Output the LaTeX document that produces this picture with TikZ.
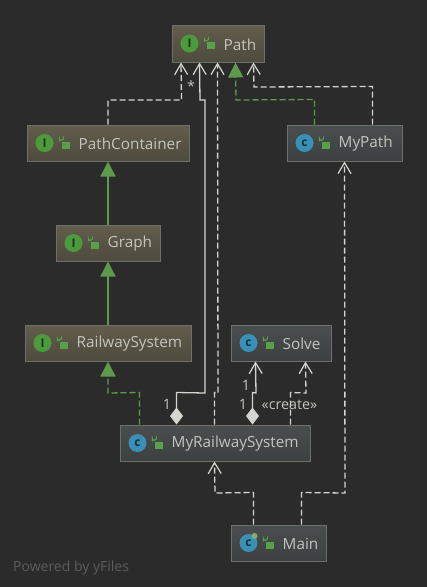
\documentclass[tikz,border=0pt]{standalone}
\usepackage{fontspec}
\setmainfont{Open Sans}
\usetikzlibrary{arrows.meta,calc}
\definecolor{bgc}{HTML}{2B2B2B}
\definecolor{bord}{HTML}{6E6E6A}
\definecolor{ifT}{HTML}{625D4C}
\definecolor{ifB}{HTML}{4E4A3D}
\definecolor{clT}{HTML}{4B4E4F}
\definecolor{clB}{HTML}{3D4041}
\definecolor{linec}{HTML}{D4D4D0}
\definecolor{greenl}{HTML}{5F9A4C}
\definecolor{txt}{HTML}{C4C4BE}
\definecolor{iconG}{HTML}{4C9A3C}
\definecolor{iconB}{HTML}{3A8FB4}
\definecolor{lockc}{HTML}{58A14A}
\definecolor{pow}{HTML}{5C5C5C}
\tikzset{
  x=1pt,y=-1pt,
  umlbox/.style={draw=bord,line width=1pt,inner sep=0pt,shade,shading angle=0},
  ifbox/.style={umlbox,top color=ifT,bottom color=ifB},
  clbox/.style={umlbox,top color=clT,bottom color=clB},
  lbl/.style={anchor=west,inner sep=0pt,text=txt,font=\fontsize{15.3}{15.3}\selectfont},
  small/.style={inner sep=0pt,text=txt,font=\fontsize{14.3}{14.3}\selectfont},
  openhead/.style={-{Straight Barb[length=11pt,width=13pt,line width=1.2pt]}},
  rel/.style={color=linec,line width=1.3pt,openhead},
  dep/.style={rel,dash pattern=on 6pt off 3pt},
  gen/.style={color=greenl,line width=1.3pt,-{Triangle[length=15pt,width=15pt]}},
  real/.style={gen,dash pattern=on 6pt off 3pt},
  assoc/.style={color=linec,line width=1.3pt,{Diamond[length=17pt,width=13pt]}-{Straight Barb[length=11pt,width=13pt,line width=1.2pt]}},
}
% #1 name, #2 left, #3 top, #4 right, #5 bottom, #6 style, #7 icon colour, #8 letter, #9 label
\newcommand{\umlclass}[9]{%
  \node[#6,minimum width=#4pt-#2pt,minimum height=#5pt-#3pt] (#1) at ({(#2+#4)/2},{(#3+#5)/2}) {};
  \node[circle,minimum size=18pt,inner sep=0pt,fill=#7,text=black!65!#7,font=\fontsize{12}{12}\bfseries\selectfont] (#1icon) at ($(#1.west)+(18,0)$) {#8};
  \node[fill=lockc,minimum width=8pt,minimum height=7pt,inner sep=0pt] (#1lock) at ($(#1.west)+(39,2)$) {};
  \draw[lockc,line width=1.1pt] ($(#1lock.north west)+(-2,0)$) -- ++(0,-3) arc[start angle=180,end angle=0,radius=2] -- ++(0,1);
  \node[lbl] (#1text) at ($(#1.west)+(52,1)$) {#9};
}
\begin{document}
\begin{tikzpicture}
\useasboundingbox[fill=bgc] (0,0) rectangle (427,587);
\umlclass{path}{172}{25}{264}{62}{ifbox}{iconG}{I}{Path}
\umlclass{pc}{27}{125}{189}{161}{ifbox}{iconG}{I}{PathContainer}
\umlclass{graph}{56}{225}{160}{261}{ifbox}{iconG}{I}{Graph}
\umlclass{rs}{25}{325}{191}{361}{ifbox}{iconG}{I}{RailwaySystem}
\umlclass{mypath}{287}{125}{402}{161}{clbox}{iconB}{c}{MyPath}
\umlclass{solve}{231}{325}{331}{361}{clbox}{iconB}{c}{Solve}
\umlclass{mrs}{120}{425}{310}{461}{clbox}{iconB}{c}{MyRailwaySystem}
\umlclass{main}{231}{525}{326}{561}{clbox}{iconB}{c}{Main}
\node[fill=greenl!80!white,circle,minimum size=6pt,inner sep=0pt] (mainrun) at ($(mainicon)+(6,-7)$) {};

% connectors
\draw[gen] (graph.north) -- (pc.south);
\draw[gen] (rs.north) -- (graph.south);
\draw[real] ([xshift=20pt]mrs.north west) -- ++(0,-32) -- (108,393) -- (rs.south);
\draw[dep] (pc.north) -- (108,100) -- (181.5,100) -- ([xshift=9.5pt]path.south west);
\draw[assoc] ([xshift=57pt]mrs.north west) -- ++(0,-32) -- (205,393) -- (205,100) -- (200,100) -- ([xshift=28pt]path.south west);
\draw[dep] ([xshift=95pt]mrs.north west) -- ++(0,-32) -- (218,393) -- ([xshift=46pt]path.south west);
\draw[real] ([xshift=28pt]mypath.north west) -- ++(0,-25) -- (236,100) -- ([xshift=64pt]path.south west);
\draw[dep] ([xshift=86pt]mypath.north west) -- ++(0,-38) -- (254,87) -- ([xshift=82pt]path.south west);
\draw[assoc] ([xshift=133pt]mrs.north west) -- ++(0,-32) -- (256,393) -- ([xshift=25pt]solve.south west);
\draw[dep] ([xshift=171pt]mrs.north west) -- ++(0,-32) -- (306,393) -- ([xshift=75pt]solve.south west);
\draw[dep] ([xshift=23pt]main.north west) -- ++(0,-32) -- (215,493) -- ([xshift=95pt]mrs.south west);
\draw[dep] ([xshift=71pt]main.north west) -- ++(0,-32) -- (345,493) -- ([xshift=58pt]mypath.south west);

% labels
\node[small] (star) at (191,86) {*};
\node[small] (one1) at (167,404) {1};
\node[small] (one2) at (246,385) {1};
\node[small] (one3) at (243,404) {1};
\node[small] (create) at (289.5,405) {«create»};
\node[anchor=west,inner sep=0pt,text=pow,font=\fontsize{14}{14}\selectfont] (powered) at (13,568) {Powered by yFiles};
\end{tikzpicture}
\end{document}
